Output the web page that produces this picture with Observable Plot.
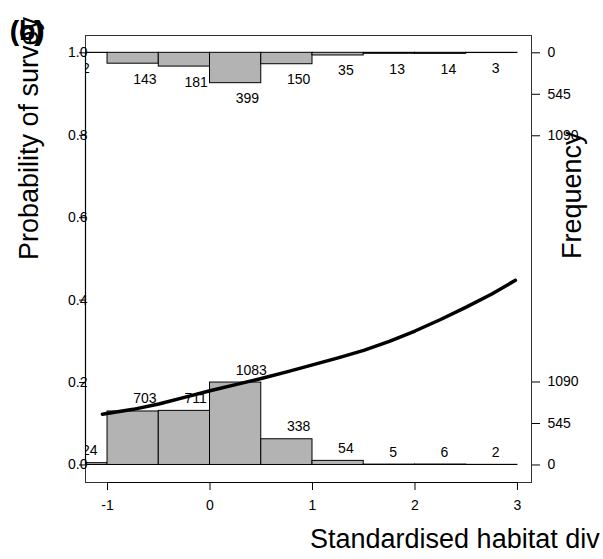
<!DOCTYPE html>
<html>
<head>
<meta charset="utf-8">
<script src="https://cdn.jsdelivr.net/npm/d3@7"></script>
<script src="https://cdn.jsdelivr.net/npm/@observablehq/plot@0.6"></script>
<style>
  html, body { margin: 0; padding: 0; background: #fff; }
</style>
</head>
<body>
<div id="chart"></div>
<script>
// ---- data ----
const binEdges = [-1.5, -1, -0.5, 0, 0.5, 1, 1.5, 2, 2.5, 3];
const countsAbsent = [24, 703, 711, 1083, 338, 54, 5, 6, 2];   // bottom histogram (y = 0)
const countsPresent = [2, 143, 181, 399, 150, 35, 13, 14, 3];  // top histogram (y = 1)
const curveX = [-1.05, -0.75, -0.5, -0.25, 0, 0.25, 0.5, 0.75, 1, 1.25, 1.5, 1.75, 2, 2.25, 2.5, 2.75, 2.98];
const curveP = [0.123, 0.135, 0.148, 0.164, 0.180, 0.195, 0.210, 0.226, 0.243, 0.260, 0.278, 0.300, 0.325, 0.353, 0.383, 0.415, 0.448];
const xTicks = [-1, 0, 1, 2, 3];
const yTicks = [0, 0.2, 0.4, 0.6, 0.8, 1.0];
const freqTicks = [0, 545, 1090];
const histMax = 1083;      // tallest bar drawn at probability 0.2
const histScale = 0.2;

// ---- derived ----
const k = histScale / histMax;
const bins = countsAbsent.map((c, i) => ({
  x1: binEdges[i], x2: binEdges[i + 1], mid: (binEdges[i] + binEdges[i + 1]) / 2,
  c0: c, c1: countsPresent[i]
}));
const curve = curveX.map((x, i) => ({x, p: curveP[i]}));
const rightTicks = [
  ...freqTicks.map(f => ({pos: f * k, label: String(f)})),
  ...freqTicks.map(f => ({pos: 1 - f * k, label: String(f)}))
];
const rightLabel = d => {
  const t = rightTicks.find(t => Math.abs(t.pos - d) < 1e-9);
  return t ? t.label : "";
};

const fill = "#b3b3b3";
const chart = Plot.plot({
  width: 603,
  height: 559,
  marginLeft: 85,
  marginRight: 72,
  marginTop: 35,
  marginBottom: 77,
  x: {domain: [-1.215, 3.137]},
  y: {domain: [-0.0425, 1.042]},
  style: {fontFamily: "'Liberation Sans', Arial, sans-serif", fontSize: "14px", color: "black", background: "white"},
  marks: [
    Plot.rect(bins, {x1: "x1", x2: "x2", y1: 0, y2: d => d.c0 * k, fill, stroke: "black", strokeWidth: 1, clip: "frame"}),
    Plot.rect(bins, {x1: "x1", x2: "x2", y1: 1, y2: d => 1 - d.c1 * k, fill, stroke: "black", strokeWidth: 1, clip: "frame"}),
    Plot.text(bins, {x: "mid", y: d => d.c0 * k, text: d => String(d.c0), textAnchor: "start", dy: -12.5, fontSize: 14, fill: "black", clip: "frame"}),
    Plot.text(bins, {x: "mid", y: d => 1 - d.c1 * k, text: d => String(d.c1), textAnchor: "start", dy: 15.5, fontSize: 14, fill: "black", clip: "frame"}),
    Plot.line(curve, {x: "x", y: "p", stroke: "black", strokeWidth: 3.5, clip: "frame"}),
    Plot.frame({stroke: "#333", strokeWidth: 1}),
    Plot.ruleX([-1.215], {y1: 0, y2: 1, stroke: "black", strokeWidth: 1.2}),
    Plot.ruleY([-0.0425], {x1: -1, x2: 3, stroke: "black", strokeWidth: 1.2}),
    Plot.axisX({ticks: xTicks, tickSize: 8, tickPadding: 10, tickFormat: d => String(d), label: null, fontSize: 14}),
    Plot.axisY({ticks: yTicks, tickSize: 6, tickPadding: -8, tickFormat: d3.format(".1f"), label: null, fontSize: 14}),
    Plot.axisY({anchor: "right", ticks: rightTicks.map(t => t.pos), tickSize: 8, tickPadding: 8, tickFormat: rightLabel, label: null, fontSize: 14})
  ]
});

const svg = d3.select(chart);
const font = "'Liberation Sans', Arial, sans-serif";
const addText = (txt, transform, bold) => svg.append("text")
  .attr("transform", transform)
  .attr("text-anchor", "start")
  .attr("font-family", font).attr("font-size", 27)
  .attr("font-weight", bold ? "bold" : "normal")
  .attr("fill", "black")
  .text(txt);
addText("Probability of survey", "translate(38,260) rotate(-90)");
addText("Frequency", "translate(581,259) rotate(-90)");
addText("Standardised habitat div", "translate(310,548)");
addText("(c)", "translate(10,40)", true);
addText("(b)", "translate(10,40)", true);

document.getElementById("chart").appendChild(chart);
</script>
</body>
</html>
